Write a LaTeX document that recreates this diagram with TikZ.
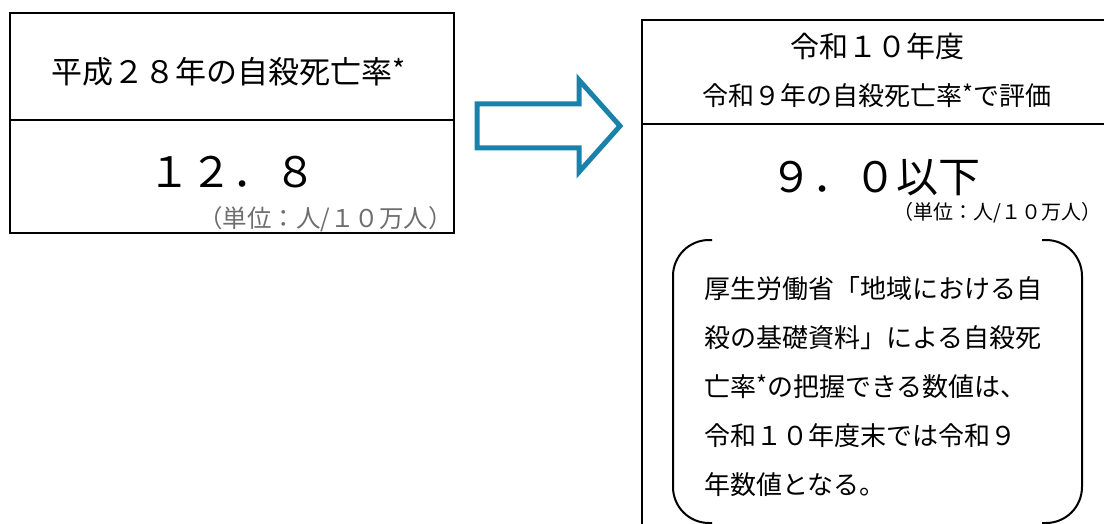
\documentclass[tikz,border=0pt]{standalone}
\usepackage{fontspec}
\setmainfont{Noto Sans CJK JP}
\definecolor{arrowblue}{HTML}{1A82AA}
\definecolor{unitgray}{HTML}{6E6E6E}
\newcommand{\kome}{\raisebox{0.12em}{\scalebox{0.9}{*}}}
\begin{document}
\begin{tikzpicture}[x=1pt, y=-1pt,
    frame/.style={draw=black, line width=2pt},
    bigarrow/.style={draw=arrowblue, line width=5pt, line join=miter},
    bracket/.style={draw=black, line width=2pt, rounded corners=36pt},
    unit/.style={inner sep=0pt, anchor=east}]
        \useasboundingbox (0,0) rectangle (1104,524);
        \clip (0,0) rectangle (1104,524);

        % Left box: H28 value
        \draw[frame] (10,13) rectangle (454,233);
        \draw[frame] (10,120) -- (454,120);
        \node[font=\fontsize{31}{31}\selectfont] (oldtitle) at (229,72) {平成２８年の自殺死亡率\kome};
        \node[font=\fontsize{42}{42}\selectfont] (oldrate) at (232,172) {１２．８};
        \node[unit, text=unitgray, font=\fontsize{24.5}{24.5}\selectfont] (oldunit) at (453,219) {（単位：人/１０万人）};

        % Block arrow
        \draw[bigarrow] (477,104) -- (579,104) -- (579,80) -- (620,126) -- (579,172) -- (579,148) -- (477,148) -- cycle;

        % Right box: R10 target (runs off the page)
        \draw[frame] (1110,20) -- (642,20) -- (642,530);
        \draw[frame] (642,124) -- (1110,124);
        \node[font=\fontsize{29}{29}\selectfont] (newyear) at (877,46) {令和１０年度};
        \node[font=\fontsize{26}{26}\selectfont] (neweval) at (877,96) {令和９年の自殺死亡率\kome で評価};
        \node[font=\fontsize{42}{42}\selectfont] (newrate) at (875,178) {９．０以下};
        \node[unit, font=\fontsize{20}{20}\selectfont] (newunit) at (1102,213) {（単位：人/１０万人）};

        % Note in round brackets
        \draw[bracket] (712,240) -- (673,240) -- (673,523) -- (712,523);
        \draw[bracket] (1042,240) -- (1082,240) -- (1082,523) -- (1042,523);
        \node[anchor=north west, inner sep=0pt, align=left, font=\fontsize{26}{49}\selectfont] (note) at (704,276)
            {厚生労働省「地域における自\\殺の基礎資料」による自殺死\\亡率\kome の把握できる数値は、\\令和１０年度末では令和９\\年数値となる。};
    \end{tikzpicture}
\end{document}
